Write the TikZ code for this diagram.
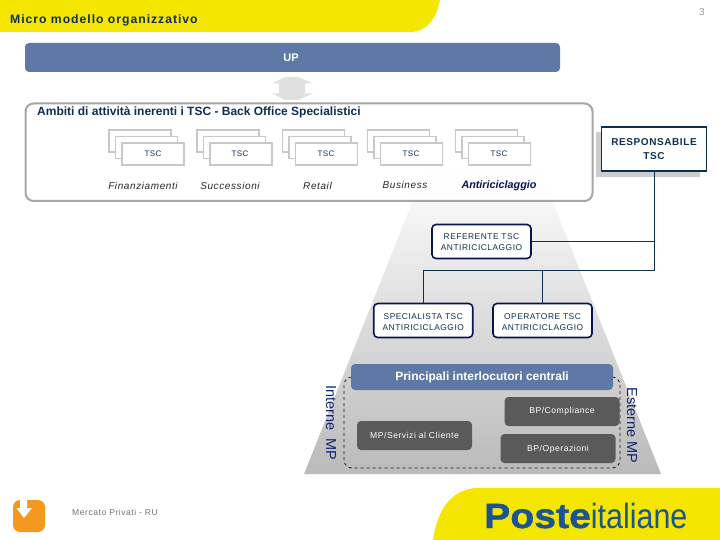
\documentclass[tikz,border=0pt]{standalone}
\usepackage{fontspec}
\setmainfont{Liberation Sans}
\newfontfamily\widefont[LetterSpace=6]{Liberation Sans}
\newfontfamily\titlefont[LetterSpace=8]{Liberation Sans}
\newfontfamily\logobold[FakeStretch=1.12,BoldFeatures={FakeStretch=1.12,FakeBold=1.2}]{Liberation Sans}
\newfontfamily\logolight[FakeStretch=.87]{Liberation Sans}
\definecolor{postyellow}{HTML}{F5E600}
\definecolor{barblue}{HTML}{5E79A5}
\definecolor{navyline}{HTML}{0F2F50}
\definecolor{navyink}{HTML}{0A1450}
\definecolor{darkbox}{HTML}{5A5A5A}
\definecolor{stackgrey}{HTML}{C8C8C8}
\definecolor{logoblue}{HTML}{1B5490}
\definecolor{iconorange}{HTML}{F39A1E}
\tikzset{
  barnode/.style={fill=barblue, rounded corners=4pt, text=white, font=\bfseries\fontsize{12}{14}\selectfont, inner sep=0pt, outer sep=0pt},
  stackbox/.style={draw=stackgrey, fill=white, line width=1.2pt, minimum width=62pt, minimum height=22pt, inner sep=0pt},
  stacktext/.style={font=\widefont\fontsize{8}{10}\selectfont, text=navyline, inner sep=0pt},
  arealabel/.style={font=\itshape\widefont\fontsize{10}{12}\selectfont, text=black!85, inner sep=0pt},
  rolebox/.style={draw=navyink, fill=white, line width=1.6pt, rounded corners=4pt, minimum width=99pt, minimum height=34pt, inner sep=0pt},
  roletext/.style={inner sep=0pt, align=center, font=\widefont\fontsize{8.4}{11}\selectfont, text=navyline},
  darknode/.style={fill=darkbox, rounded corners=4pt, minimum width=115pt, minimum height=29pt, inner sep=0pt, text=white, font=\widefont\fontsize{8.6}{10}\selectfont},
  sidelabel/.style={rotate=-90, font=\fontsize{14.5}{16}\selectfont, text=navyline!80!blue, inner sep=0pt},
  linkline/.style={draw=navyline, line width=.8pt}
}
\begin{document}
\begin{tikzpicture}[x=1pt,y=-1pt]
  \useasboundingbox (0,0) rectangle (720,540);

  % Header and footer bands
  \fill[postyellow] (0,0) -- (440,0) .. controls (436,20) and (426,32) .. (410,32) -- (0,32) -- cycle;
  \fill[postyellow] (433,540) .. controls (438,505) and (455,488) .. (478,488) -- (720,488) -- (720,540) -- cycle;
  \node[anchor=west, inner sep=0pt, font=\titlefont\bfseries\fontsize{12.2}{14}\selectfont, text=navyline] (title) at (10,20) {Micro modello organizzativo};
  \node[text=black!40, inner sep=0pt, font=\fontsize{10}{12}\selectfont] (pagenum) at (702,12) {3};

  % Pyramid behind everything
  \shade[top color=white, bottom color=black!27] (427,165) -- (538,165) -- (661,474) -- (304,474) -- cycle;

  % Top bar and double arrow
  \node[barnode, minimum width=535pt, minimum height=29pt] (up) at (292.5,57.5) {};
  \node[text=white, inner sep=0pt, font=\bfseries\fontsize{11}{13}\selectfont] (uplabel) at (291,57.5) {UP};
  \fill[black!12] (285,77) -- (298,77) -- (313,83.5) -- (305,83.5) -- (305,93.5) -- (313,93.5) -- (298,100) -- (285,100) -- (272,93.5) -- (279,93.5) -- (279,83.5) -- (272,83.5) -- cycle;

  % Container of the areas
  \draw[draw=black!35, line width=2pt, fill=white, fill opacity=.88, rounded corners=8pt] (25.5,103.5) rectangle (592.5,201);
  \node[anchor=west, inner sep=0pt, font=\bfseries\fontsize{12}{14}\selectfont, text=navyline] (areas) at (37,112) {Ambiti di attività inerenti i TSC - Back Office Specialistici};

  % Stacked boxes
  \foreach \xbox/\xtext/\name in {153/153/a,241/240/b,326.5/326/c,411.5/411/d,499.5/499/e} {
      \node[stackbox] at (\xbox-13,141) {};
      \node[stackbox] at (\xbox-6.5,147.5) {};
      \node[stackbox] (box\name) at (\xbox,154) {};
      \node[stacktext] at (\xtext,154) {TSC};
  }
  \node[arealabel] (fin) at (143,186) {Finanziamenti};
  \node[arealabel] (suc) at (230,186) {Successioni};
  \node[arealabel] (ret) at (317.5,186) {Retail};
  \node[arealabel] (bus) at (405,185) {Business};
  \node[font=\bfseries\itshape\fontsize{10.8}{12}\selectfont, text=navyink, inner sep=0pt] (ant) at (499,185.5) {Antiriciclaggio};

  % Responsible box with its shadow
  \fill[black!20] (596,132) rectangle (700,177);
  \node[draw=navyline, fill=white, line width=1.6pt, minimum width=105pt, minimum height=44pt, inner sep=0pt, align=center, text=navyline, font=\widefont\bfseries\fontsize{10}{14}\selectfont] (resp) at (654,149) {RESPONSABILE\\TSC};

  % Role boxes
  \node[rolebox] (ref) at (481.5,241.5) {};
  \node[rolebox] (spec) at (423.25,320.5) {};
  \node[rolebox] (oper) at (542.5,320.5) {};
  \node[roletext] (reflabel) at (481.5,242.5) {REFERENTE TSC\\ANTIRICICLAGGIO};
  \node[roletext] (speclabel) at (423.25,322) {SPECIALISTA TSC\\ANTIRICICLAGGIO};
  \node[roletext] (operlabel) at (542.5,322) {OPERATORE TSC\\ANTIRICICLAGGIO};

  % Connectors
  \coordinate (branch) at (654,270.5);
  \draw[linkline] (resp.south) -- (branch) -| (spec.north);
  \draw[linkline] (resp.south) |- (ref.east);
  \draw[linkline] (oper.north) |- (branch);

  % Bottom of the pyramid
  \draw[dashed, line width=.8pt, rounded corners=8pt, draw=black!90] (344,377) rectangle (620,468);
  \node[barnode, minimum width=262pt, minimum height=26pt] (main) at (482,377) {Principali interlocutori centrali};
  \node[darknode] (serv) at (414.5,435.5) {MP/Servizi al Cliente};
  \node[darknode] (comp) at (562,411.5) {BP/Compliance};
  \node[darknode] (oper2) at (558,448.5) {};
  \node[text=white, inner sep=0pt, font=\widefont\fontsize{8.6}{10}\selectfont] (oper2label) at (558,449.5) {BP/Operazioni};
  \node[sidelabel] (interne) at (331,423) {Interne\ \ MP};
  \node[sidelabel] (esterne) at (632,425.5) {Esterne MP};

  % Footer
  \fill[iconorange, rounded corners=7pt] (13,500) rectangle (45,532);
  \fill[white] (20,499) -- (27,499) -- (27,508) -- (32,508) -- (24,518) -- (16.5,508) -- (20,508) -- cycle;
  \node[anchor=west, inner sep=0pt, text=black!55, font=\widefont\fontsize{8.6}{10}\selectfont] (market) at (72,512) {Mercato Privati - RU};
  \node[anchor=base west, inner sep=0pt, text=logoblue, font=\fontsize{35}{38}\selectfont] (logo) at (484,528) {\logobold\bfseries Poste\logolight\mdseries italiane};
\end{tikzpicture}
\end{document}
